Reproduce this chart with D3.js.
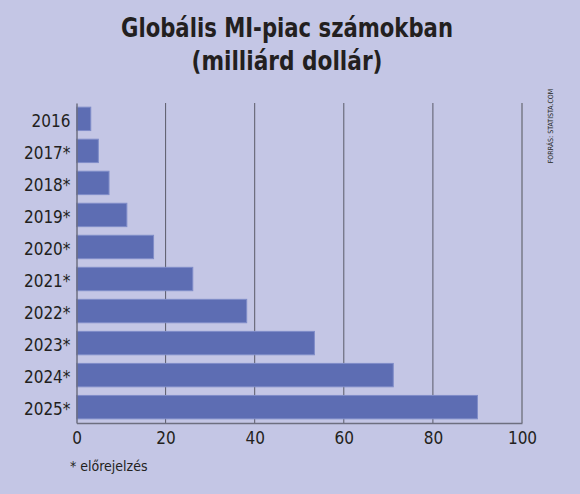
<!DOCTYPE html>
<html lang="hu">
<head>
    <meta charset="UTF-8">
    <title>Globális MI-piac számokban</title>
    <script src="https://cdnjs.cloudflare.com/ajax/libs/d3/7.8.5/d3.min.js"></script>
    <style>
        html, body { margin: 0; padding: 0; background: #c4c6e5; }
        svg { display: block; }
        text { font-family: "DejaVu Sans Condensed", "DejaVu Sans", sans-serif; fill: #231f20; }
    </style>
</head>
<body>
    <svg id="chart" width="580" height="494"></svg>
    <script>
        const years = ["2016", "2017*", "2018*", "2019*", "2020*", "2021*", "2022*", "2023*", "2024*", "2025*"];
        const values = [3.2, 4.9, 7.3, 11.3, 17.3, 26.1, 38.2, 53.4, 71.1, 90.0];
        const xTicks = [0, 20, 40, 60, 80, 100];
        const titleLines = ["Globális MI-piac számokban", "(milliárd dollár)"];

        const svg = d3.select("#chart");
        const width = +svg.attr("width");

        svg.append("rect")
           .attr("width", width)
           .attr("height", 494)
           .attr("fill", "#c4c6e5");

        const x = d3.scaleLinear().domain([0, 100]).range([76.5, 522]);
        const y = d3.scaleBand().domain(years).range([103, 423])
            .paddingInner(0.27).paddingOuter(0.13);

        // title
        svg.selectAll("text.title")
           .data(titleLines)
           .enter()
           .append("text")
           .attr("class", "title")
           .attr("x", 287)
           .attr("y", (d, i) => 37 + i * 33)
           .attr("text-anchor", "middle")
           .attr("font-size", "26px")
           .attr("font-weight", "bold")
           .attr("textLength", (d, i) => i === 0 ? 332 : 191)
           .attr("lengthAdjust", "spacingAndGlyphs")
           .text(d => d);

        // gridlines
        svg.selectAll("line.grid")
           .data(xTicks.slice(1))
           .enter()
           .append("line")
           .attr("class", "grid")
           .attr("x1", d => x(d))
           .attr("x2", d => x(d))
           .attr("y1", 103)
           .attr("y2", 423)
           .attr("stroke", d => d === 100 ? "#8b8d9f" : "#5a5a68")
           .attr("stroke-width", d => d === 100 ? 2 : 1);

        // bars
        svg.selectAll("rect.bar")
           .data(values)
           .enter()
           .append("rect")
           .attr("class", "bar")
           .attr("x", x(0))
           .attr("y", (d, i) => y(years[i]))
           .attr("width", d => x(d) - x(0))
           .attr("height", y.bandwidth())
           .attr("fill", "#5d6db3")
           .attr("stroke", "#7f8cc8")
           .attr("stroke-width", 1);

        // axes
        const xAxis = svg.append("g")
            .attr("transform", "translate(0,423)")
            .call(d3.axisBottom(x).tickValues(xTicks).tickSize(0).tickPadding(9));
        xAxis.select(".domain").attr("stroke", "#6e6f80").attr("stroke-width", 1.5);
        xAxis.selectAll("text").attr("font-size", "17px").attr("font-family", null).attr("fill", "#2a2830");

        const yAxis = svg.append("g")
            .attr("transform", `translate(${x(0)},0)`)
            .call(d3.axisLeft(y).tickSize(0).tickPadding(6));
        yAxis.select(".domain").attr("stroke", "#6e6f80").attr("stroke-width", 1.5);
        yAxis.selectAll("text").attr("font-size", "17px").attr("font-family", null)
            .attr("fill", "#2a2830").attr("dy", "0.45em");

        // footnote
        svg.append("text")
           .attr("x", 70)
           .attr("y", 471)
           .attr("font-size", "14px")
           .text("* előrejelzés");

        // source
        svg.append("text")
           .attr("transform", "translate(553,126) rotate(-90)")
           .attr("text-anchor", "middle")
           .attr("font-size", "7px")
           .text("FORRÁS: STATISTA.COM");
    </script>
</body>
</html>
